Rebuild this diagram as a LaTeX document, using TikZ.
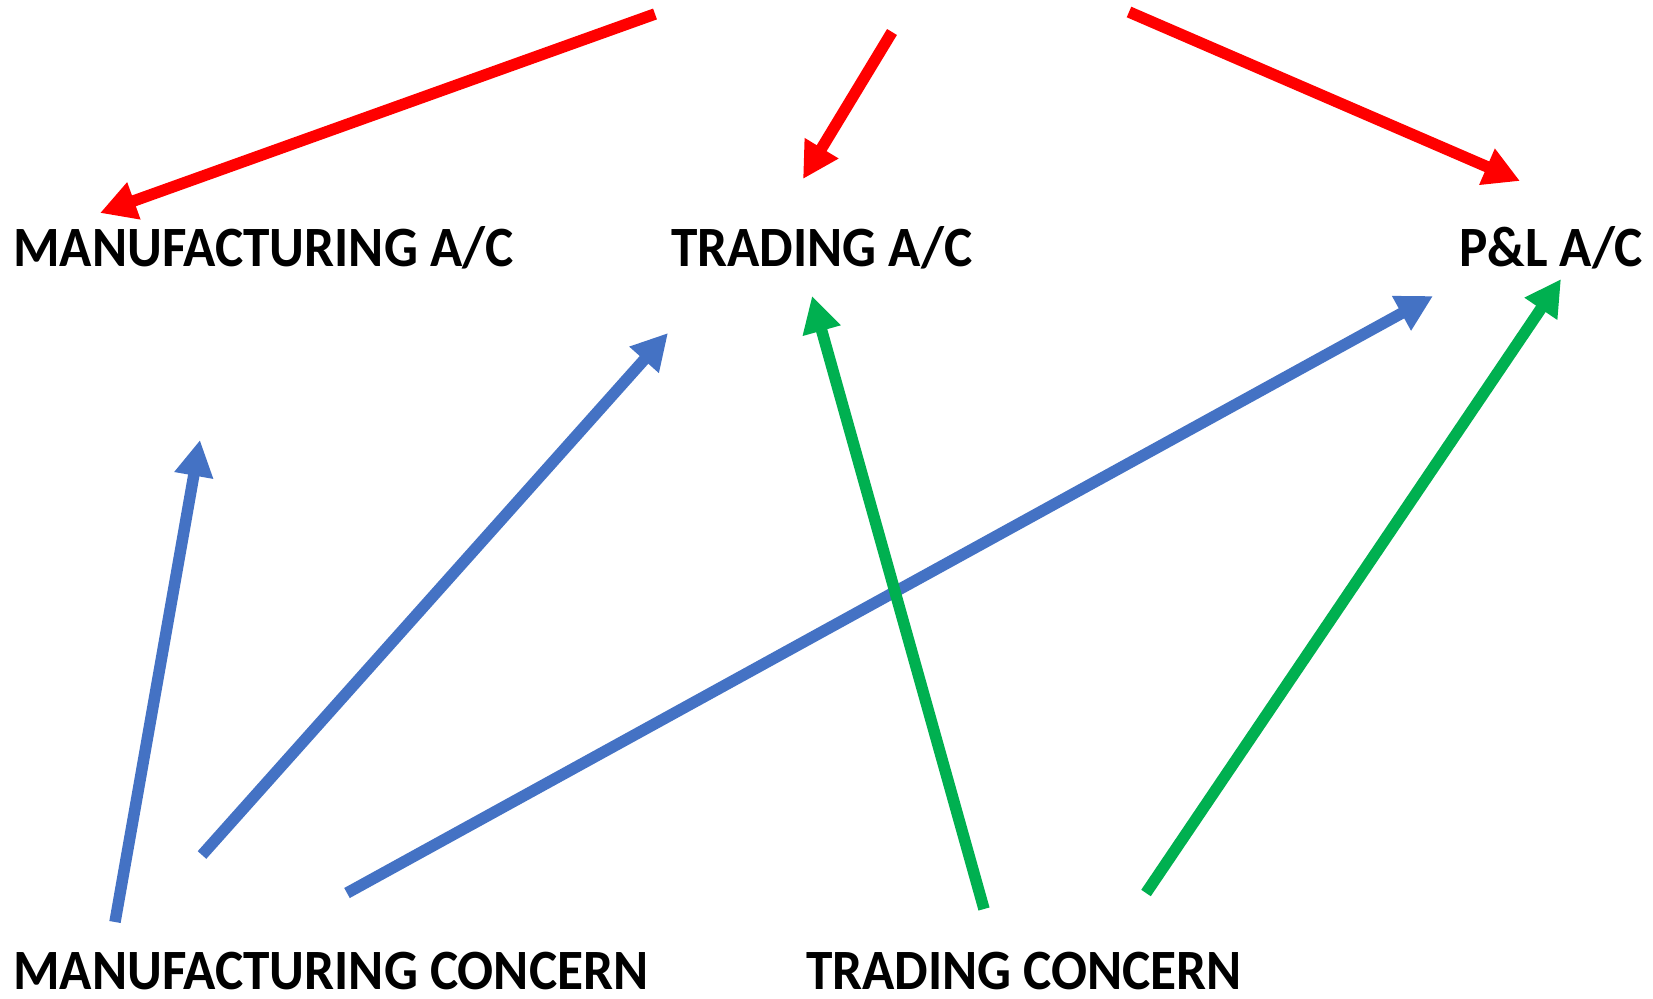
\documentclass[tikz,border=0pt]{standalone}
\usepackage{fontspec}
\setmainfont{Carlito}[FakeStretch=0.935]
\usetikzlibrary{arrows.meta}
\definecolor{cred}{HTML}{FF0000}
\definecolor{cblue}{HTML}{4472C4}
\definecolor{cgreen}{HTML}{00B050}
\begin{document}
\begin{tikzpicture}[x=1pt,y=-1pt,
  lbl/.style={anchor=base west,inner sep=0pt,font=\fontsize{57}{60}\selectfont\bfseries},
  conn/.style={line width=11.5pt,-{Triangle[length=36pt,width=37pt]}}]
\useasboundingbox (0,0) rectangle (1653,998);
\node[lbl] (macc) at (13,266) {MANUFACTURING A/C};
\node[lbl] (tacc) at (671,266) {TRADING A/C};
\node[lbl] (pl) at (1459,266) {P\&L A/C};
\node[lbl] (mc) at (13,989) {MANUFACTURING CONCERN};
\node[lbl] (tc) at (806,989) {TRADING CONCERN};
% red
\coordinate (r1s) at (655,14);  \coordinate (r1e) at (100,213);
\coordinate (r2s) at (892,32);  \coordinate (r2e) at (803,179);
\coordinate (r3s) at (1129,12); \coordinate (r3e) at (1520,181);
% blue
\coordinate (b1s) at (115,922); \coordinate (b1e) at (200,440);
\coordinate (b2s) at (202,855); \coordinate (b2e) at (668,333);
\coordinate (b3s) at (347,893); \coordinate (b3e) at (1433,296);
% green
\coordinate (g1s) at (984,909); \coordinate (g1e) at (812,296);
\coordinate (g2s) at (1146,893); \coordinate (g2e) at (1561,279);
\draw[conn,cred] (r1s) -- (r1e);
\draw[conn,cred] (r2s) -- (r2e);
\draw[conn,cred] (r3s) -- (r3e);
\draw[conn,cblue] (b1s) -- (b1e);
\draw[conn,cblue] (b2s) -- (b2e);
\draw[conn,cblue] (b3s) -- (b3e);
\draw[conn,cgreen] (g1s) -- (g1e);
\draw[conn,cgreen] (g2s) -- (g2e);
\end{tikzpicture}
\end{document}
